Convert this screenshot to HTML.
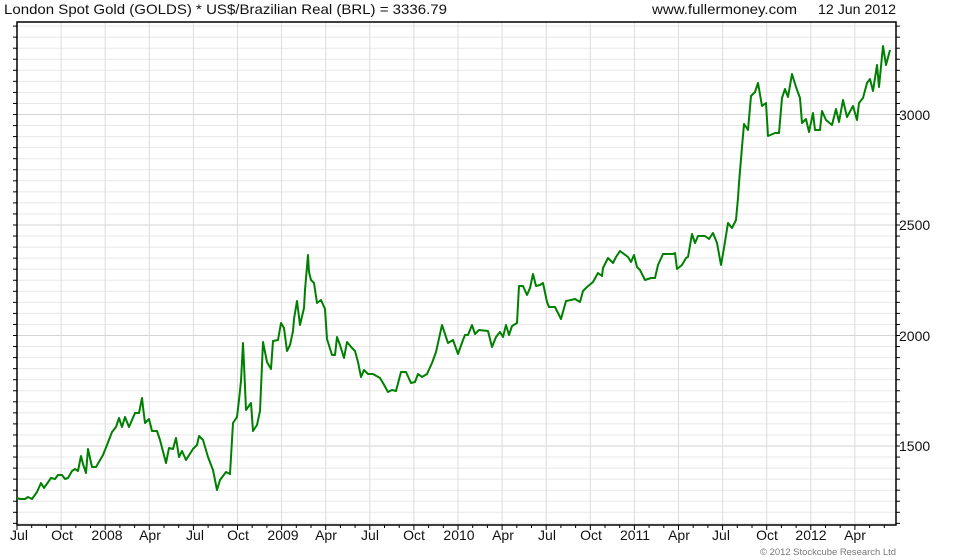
<!DOCTYPE html>
<html><head><meta charset="utf-8"><style>
html,body{margin:0;padding:0;background:#fff;}
svg{display:block;font-family:"Liberation Sans",sans-serif;}
</style></head><body>
<svg id="c" width="980" height="560" xmlns="http://www.w3.org/2000/svg">
<g id="grid"></g>
<rect x="17" y="22" width="879" height="503" fill="none" stroke="#000" stroke-width="1.5"/>
<g id="ticks" stroke="#000" stroke-width="1"></g>
<polyline fill="none" stroke="#008000" stroke-width="2" stroke-linejoin="round" points="17,498 20,499 25,499 28,497 32,499 37,492 41,483 44,488 51,478 55,479 58,475 62,475 65,479 68,478 72,471 75,469 78,471 81,456 83,464 86,473 88,449 92,467 96,467 103,455 107,445 112,432 116,427 119,418 122,427 125,417 129,427 135,413 139,413 142,398 143,407 145,423 149,419 152,431 157,431 160,440 166,463 169,448 173,449 176,438 179,457 182,451 186,460 193,449 197,445 199,436 203,440 208,457 213,470 217,490 220,480 226,472 230,474 233,423 237,417 239,400 241,381 243,343 244,364 246,410 251,403 253,431 257,425 260,411 263,342 267,362 271,369 273,341 278,340 281,323 284,328 287,351 290,345 293,331 294,319 297,301 300,325 304,308 305,290 308,255 309,272 311,280 314,283 317,303 321,300 325,309 327,339 332,355 335,355 337,337 340,345 344,358 347,342 352,348 355,351 358,362 361,377 364,370 368,374 373,374 380,378 383,383 388,392 392,390 396,391 401,372 406,372 411,383 415,382 418,374 422,377 427,374 432,363 436,352 442,325 448,343 453,340 458,354 463,340 465,335 468,335 472,325 475,334 479,330 488,331 492,347 496,337 500,332 503,337 506,325 509,335 512,326 517,323 519,286 523,286 527,295 530,288 533,274 536,286 540,285 543,283 547,302 549,307 555,307 561,319 566,301 571,300 575,299 580,302 583,291 587,287 593,282 598,273 602,276 603,268 608,258 613,263 616,257 620,251 628,257 631,262 634,255 637,267 640,270 645,280 651,278 655,278 658,265 663,254 673,254 675,253 677,269 682,265 686,258 688,257 692,234 695,243 698,236 705,236 709,239 713,233 717,243 721,265 724,248 728,223 732,228 736,220 738,198 739,183 742,147 744,124 748,130 751,96 755,92 758,83 762,106 766,103 768,136 775,133 779,133 782,98 785,89 788,97 792,74 796,87 800,98 802,123 806,119 809,132 813,113 815,130 820,130 822,111 826,120 832,125 836,109 839,122 843,100 847,117 853,106 857,120 859,103 863,98 867,83 870,79 873,91 877,65 879,87 883,46 886,65 890,50"/>
<g font-size="14" fill="#111">
<text x="4" y="14" textLength="443" lengthAdjust="spacingAndGlyphs">London Spot Gold (GOLDS) * US$/Brazilian Real (BRL) = 3336.79</text>
<text x="652" y="14" textLength="145" lengthAdjust="spacingAndGlyphs">www.fullermoney.com</text>
<text x="818" y="14" textLength="78" lengthAdjust="spacingAndGlyphs">12 Jun 2012</text>
<text x="899" y="451">1500</text>
<text x="899" y="341">2000</text>
<text x="899" y="230">2500</text>
<text x="899" y="120">3000</text>
</g>
<g font-size="14" fill="#111" text-anchor="middle">
<text x="19" y="540">Jul</text><text x="62" y="540">Oct</text><text x="107" y="540">2008</text><text x="150" y="540">Apr</text>
<text x="195" y="540">Jul</text><text x="238" y="540">Oct</text><text x="283" y="540">2009</text><text x="326" y="540">Apr</text>
<text x="370" y="540">Jul</text><text x="414" y="540">Oct</text><text x="459" y="540">2010</text><text x="503" y="540">Apr</text>
<text x="547" y="540">Jul</text><text x="591" y="540">Oct</text><text x="635" y="540">2011</text><text x="679" y="540">Apr</text>
<text x="721" y="540">Jul</text><text x="767" y="540">Oct</text><text x="811" y="540">2012</text><text x="855" y="540">Apr</text>
</g>
<text x="760" y="555" font-size="9" fill="#777" textLength="136" lengthAdjust="spacingAndGlyphs">© 2012 Stockcube Research Ltd</text>
</svg>
<script>
var ns="http://www.w3.org/2000/svg",g=document.getElementById("grid"),t=document.getElementById("ticks");
function L(p,x1,y1,x2,y2,c){var l=document.createElementNS(ns,"line");l.setAttribute("x1",x1);l.setAttribute("y1",y1);l.setAttribute("x2",x2);l.setAttribute("y2",y2);if(c)l.setAttribute("stroke",c);p.appendChild(l);}
for(var k=-38;k<=7;k++){var y=446+k*11.05;if(y<23||y>524)continue;var maj=(k%10==0);
 L(g,17,y,896,y,maj?"#d4d4d4":"#e8e8e8");L(t,13,y,17,y);L(t,896,y,900,y);}
for(var m=0;m<60;m++){var x=17+m*14.7;if(x>896)break;
 if(m%3==0&&m>0)L(g,x,22,x,525,"#dcdcdc");L(t,x,525,x,m%3==0?530:528);}
</script>
</body></html>
